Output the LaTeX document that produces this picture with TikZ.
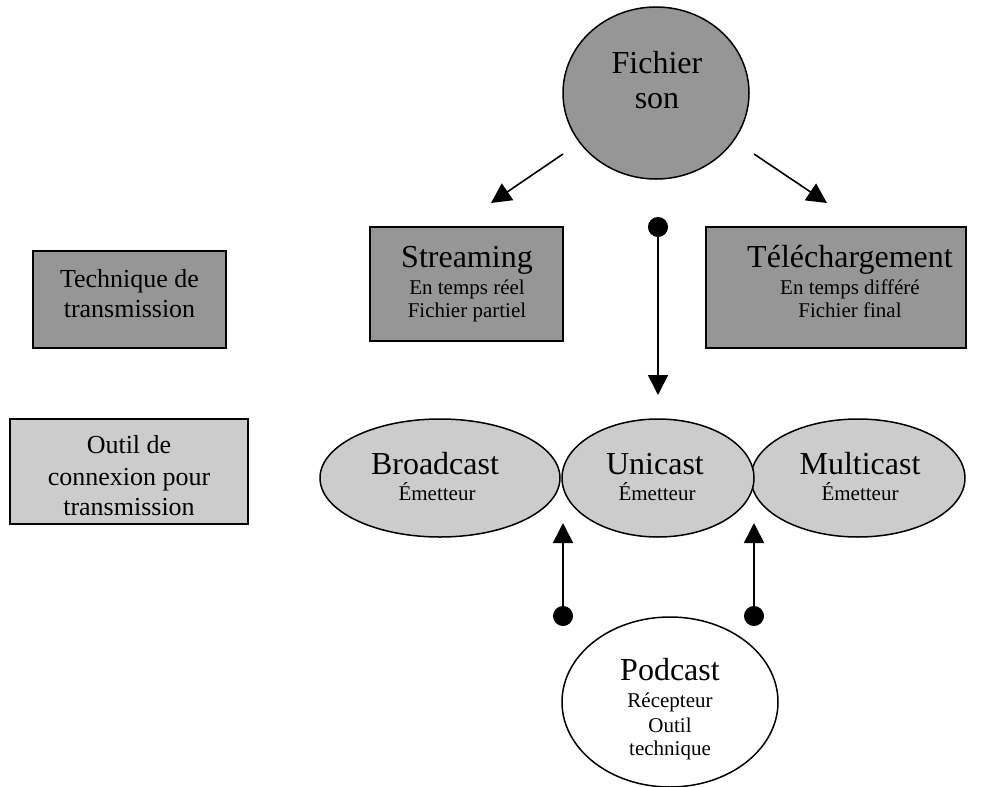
\documentclass[tikz,border=0pt]{standalone}
\usepackage{fontspec}
\setmainfont{Liberation Serif}
\usetikzlibrary{shapes.geometric,arrows.meta}
\definecolor{darkfill}{RGB}{150,150,150}
\definecolor{lightfill}{RGB}{204,204,204}
\begin{document}
\begin{tikzpicture}[x=1pt,y=-1pt,
  shapeline/.style={draw=black,line width=1.5pt},
  darkbox/.style={shapeline,fill=darkfill,rectangle,inner sep=0},
  lightbox/.style={shapeline,fill=lightfill,rectangle,inner sep=0},
  darkell/.style={shapeline,fill=darkfill,ellipse,inner sep=0},
  lightell/.style={shapeline,fill=lightfill,ellipse,inner sep=0},
  whiteell/.style={shapeline,fill=white,ellipse,inner sep=0},
  bigtxt/.style={anchor=base,inner sep=0,font=\fontsize{32}{36}\selectfont},
  midtxt/.style={anchor=base,inner sep=0,font=\fontsize{26}{30}\selectfont},
  smalltxt/.style={anchor=base,inner sep=0,font=\fontsize{21}{25}\selectfont},
  conn/.style={line width=1.6pt,-{Triangle[length=20pt,width=20pt]}},
  dotconn/.style={line width=1.6pt,{Circle[length=20pt]}-{Triangle[length=20pt,width=20pt]}},
]
\useasboundingbox (0,0) rectangle (983,787);

% Fichier son
\node[darkell,minimum width=186,minimum height=172] (fich) at (656,93) {};
\node[bigtxt] (fichA) at (657,73) {Fichier};
\node[bigtxt] (fichB) at (657,108) {son};

% Legend boxes
\node[darkbox,minimum width=193,minimum height=97] (tech) at (129.5,299.5) {};
\node[midtxt] (techA) at (129.5,287) {Technique de};
\node[midtxt] (techB) at (129.5,317) {transmission};

\node[lightbox,minimum width=238,minimum height=105] (outil) at (129,471.5) {};
\node[midtxt] (outilA) at (129,453) {Outil de};
\node[midtxt] (outilB) at (129,485) {connexion pour};
\node[midtxt] (outilC) at (129,515) {transmission};

% Streaming
\node[darkbox,minimum width=193,minimum height=114] (stream) at (466.5,284) {};
\node[bigtxt] (streamA) at (467,267) {Streaming};
\node[smalltxt] (streamB) at (467,294) {En temps réel};
\node[smalltxt] (streamC) at (467,317) {Fichier partiel};

% Telechargement
\node[darkbox,minimum width=260,minimum height=121] (tele) at (836,287.5) {};
\node[bigtxt] (teleA) at (850,267) {Téléchargement};
\node[smalltxt] (teleB) at (850,294) {En temps différé};
\node[smalltxt] (teleC) at (850,317) {Fichier final};

% Emitters
\node[lightell,minimum width=240,minimum height=118] (broad) at (440,478) {};
\node[lightell,minimum width=214,minimum height=118] (multi) at (858,478) {};
\node[lightell,minimum width=192,minimum height=118] (uni) at (658,478) {};
\node[bigtxt] (broadA) at (435,474) {Broadcast};
\node[smalltxt] (broadB) at (437,500) {Émetteur};
\node[bigtxt] (uniA) at (655,474) {Unicast};
\node[smalltxt] (uniB) at (657,500) {Émetteur};
\node[bigtxt] (multiA) at (860,474) {Multicast};
\node[smalltxt] (multiB) at (860,500) {Émetteur};

% Podcast
\node[whiteell,minimum width=216,minimum height=170] (pod) at (670,702) {};
\node[bigtxt] (podA) at (670,680) {Podcast};
\node[smalltxt] (podB) at (670,707) {Récepteur};
\node[smalltxt] (podC) at (670,732) {Outil};
\node[smalltxt] (podD) at (670,755) {technique};

% Connector end points
\coordinate (l1) at (563,154); \coordinate (l2) at (491,203);
\coordinate (r1) at (754,154); \coordinate (r2) at (827,203);
\coordinate (v1) at (658,217); \coordinate (v2) at (658,395);
\coordinate (u1) at (563,626); \coordinate (u2) at (563,523);
\coordinate (w1) at (754,626); \coordinate (w2) at (754,523);

\draw[conn] (l1) -- (l2);
\draw[conn] (r1) -- (r2);
\draw[dotconn] (v1) -- (v2);
\draw[dotconn] (u1) -- (u2);
\draw[dotconn] (w1) -- (w2);
\end{tikzpicture}
\end{document}
